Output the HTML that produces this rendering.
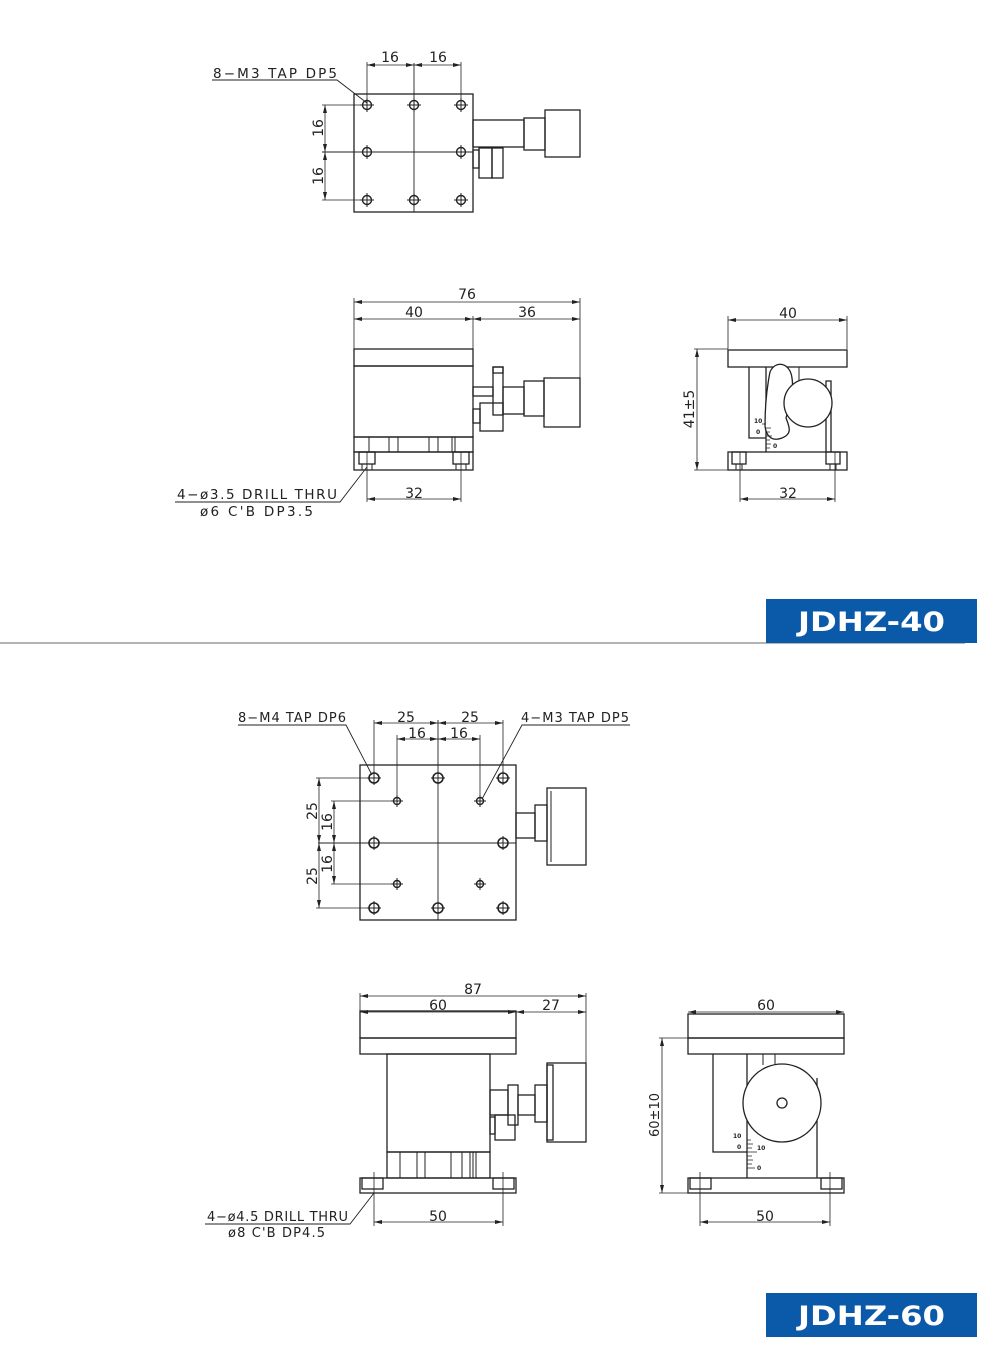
<!DOCTYPE html>
<html><head><meta charset="utf-8"><style>
html,body{margin:0;padding:0;background:#fff;}
svg{display:block;}
text{font-family:"DejaVu Sans","Liberation Sans",sans-serif;fill:#222;}
</style></head><body>
<svg width="1000" height="1367" viewBox="0 0 1000 1367" xmlns="http://www.w3.org/2000/svg">
<defs>
<marker id="a" markerWidth="8" markerHeight="6" refX="8" refY="3" orient="auto-start-reverse" markerUnits="userSpaceOnUse"><path d="M0,1 L8,3 L0,5z" fill="#222"/></marker>
<g id="h1"><circle r="4.5" fill="none" stroke="#222" stroke-width="1.4"/><line x1="-7" y1="0" x2="7" y2="0" stroke="#222" stroke-width="1"/><line x1="0" y1="-7" x2="0" y2="7" stroke="#222" stroke-width="1"/></g>
<g id="h2"><circle r="5" fill="none" stroke="#222" stroke-width="1.6"/><line x1="-7" y1="0" x2="7" y2="0" stroke="#222" stroke-width="1"/><line x1="0" y1="-7" x2="0" y2="7" stroke="#222" stroke-width="1"/></g>
<g id="h3"><circle r="3.5" fill="none" stroke="#222" stroke-width="1.4"/><line x1="-6" y1="0" x2="6" y2="0" stroke="#222" stroke-width="1"/><line x1="0" y1="-6" x2="0" y2="6" stroke="#222" stroke-width="1"/></g>
</defs>
<g fill="none" stroke="#222" stroke-width="1.3">
<!-- ===== TOP VIEW 1 ===== -->
<rect x="354" y="94" width="119" height="118"/>
<line x1="414" y1="63" x2="414" y2="212" stroke-width="0.9"/>
<line x1="322" y1="152" x2="473" y2="152" stroke-width="0.9"/>
<line x1="367" y1="62" x2="367" y2="105" stroke-width="0.8"/>
<line x1="461" y1="62" x2="461" y2="105" stroke-width="0.8"/>
<line x1="322" y1="105" x2="367" y2="105" stroke-width="0.8"/>
<line x1="322" y1="200" x2="367" y2="200" stroke-width="0.8"/>
<line x1="367" y1="65" x2="414" y2="65" stroke-width="0.8" marker-start="url(#a)" marker-end="url(#a)"/>
<line x1="414" y1="65" x2="461" y2="65" stroke-width="0.8" marker-start="url(#a)" marker-end="url(#a)"/>
<line x1="325" y1="105" x2="325" y2="152" stroke-width="0.8" marker-start="url(#a)" marker-end="url(#a)"/>
<line x1="325" y1="152" x2="325" y2="200" stroke-width="0.8" marker-start="url(#a)" marker-end="url(#a)"/>
<rect x="473" y="120" width="51" height="27"/>
<rect x="524" y="118" width="21" height="32"/>
<rect x="545" y="110" width="35" height="47"/>
<rect x="473" y="150" width="6" height="18"/>
<rect x="479" y="148" width="13" height="30"/>
<rect x="492" y="148" width="11" height="30"/>
<polyline points="212,80 337,80 367,103" stroke-width="0.9"/>

<!-- ===== FRONT VIEW 1 ===== -->
<line x1="354" y1="298" x2="354" y2="349" stroke-width="0.8"/>
<line x1="473" y1="316" x2="473" y2="349" stroke-width="0.8"/>
<line x1="580" y1="298" x2="580" y2="378" stroke-width="0.8"/>
<line x1="354" y1="302" x2="580" y2="302" stroke-width="0.8" marker-start="url(#a)" marker-end="url(#a)"/>
<line x1="354" y1="319" x2="473" y2="319" stroke-width="0.8" marker-start="url(#a)" marker-end="url(#a)"/>
<line x1="473" y1="319" x2="580" y2="319" stroke-width="0.8" marker-start="url(#a)" marker-end="url(#a)"/>
<rect x="354" y="349" width="119" height="17"/>
<rect x="354" y="366" width="119" height="71"/>
<rect x="354" y="437" width="119" height="15"/>
<path d="M369,437V452 M389,437V452 M398,437V452 M429,437V452 M438,437V452 M452,437V452 M455,437V452" stroke-width="1"/>
<rect x="354" y="452" width="119" height="18"/>
<rect x="359" y="452" width="16" height="12"/>
<rect x="453" y="452" width="16" height="12"/>
<path d="M362,464V470 M372,464V470 M456,464V470 M466,464V470" stroke-width="1"/>
<line x1="367" y1="452" x2="367" y2="502" stroke-width="0.8"/>
<line x1="461" y1="452" x2="461" y2="502" stroke-width="0.8"/>
<line x1="367" y1="499" x2="461" y2="499" stroke-width="0.8" marker-start="url(#a)" marker-end="url(#a)"/>
<rect x="473" y="387" width="20" height="9"/>
<rect x="493" y="367" width="10" height="48"/>
<rect x="493" y="367" width="10" height="6"/>
<rect x="503" y="387" width="21" height="27"/>
<rect x="524" y="381" width="20" height="35"/>
<rect x="544" y="378" width="36" height="49"/>
<rect x="473" y="409" width="7" height="14"/>
<rect x="480" y="403" width="23" height="28"/>
<polyline points="175,502 340,502 367,467" stroke-width="0.9"/>

<!-- ===== SIDE VIEW 1 ===== -->
<line x1="728" y1="316" x2="728" y2="349" stroke-width="0.8"/>
<line x1="847" y1="316" x2="847" y2="349" stroke-width="0.8"/>
<line x1="728" y1="320" x2="847" y2="320" stroke-width="0.8" marker-start="url(#a)" marker-end="url(#a)"/>
<rect x="728" y="350" width="119" height="17"/>
<polyline points="749,367 749,438 766,438"/>
<line x1="766" y1="367" x2="766" y2="452"/>
<polyline points="826,452 826,381 831,381 831,452"/>
<path d="M786,367 V381 M799,367 V381" stroke-width="1"/>
<path d="M770,372 C775,360 790,362 792,378 C794,392 790,404 786,418 C790,428 792,434 782,438 C772,442 766,436 765,426 C765,410 766,392 770,372 Z" fill="#fff"/>
<circle cx="808" cy="403" r="24" fill="#fff"/>
<path d="M766,424h-4 M766,428h5 M766,432h4 M766,436h6 M766,440h4 M766,444h5 M766,448h4" stroke-width="0.8"/>
<rect x="728" y="452" width="119" height="18"/>
<rect x="732" y="452" width="14" height="12"/>
<rect x="826" y="452" width="14" height="12"/>
<path d="M736,464V470 M742,464V470 M830,464V470 M836,464V470" stroke-width="1"/>
<line x1="694" y1="349" x2="728" y2="349" stroke-width="0.8"/>
<line x1="694" y1="470" x2="728" y2="470" stroke-width="0.8"/>
<line x1="697" y1="349" x2="697" y2="470" stroke-width="0.8" marker-start="url(#a)" marker-end="url(#a)"/>
<line x1="740" y1="452" x2="740" y2="502" stroke-width="0.8"/>
<line x1="835" y1="452" x2="835" y2="502" stroke-width="0.8"/>
<line x1="740" y1="499" x2="835" y2="499" stroke-width="0.8" marker-start="url(#a)" marker-end="url(#a)"/>

<!-- divider -->
<line x1="0" y1="643" x2="965" y2="643" stroke="#888" stroke-width="1.2"/>

<!-- ===== TOP VIEW 2 ===== -->
<rect x="360" y="765" width="156" height="155"/>
<line x1="438" y1="720" x2="438" y2="920" stroke-width="0.9"/>
<line x1="318" y1="843" x2="516" y2="843" stroke-width="0.9"/>
<line x1="374" y1="720" x2="374" y2="778" stroke-width="0.8"/>
<line x1="503" y1="720" x2="503" y2="778" stroke-width="0.8"/>
<line x1="397" y1="735" x2="397" y2="801" stroke-width="0.8"/>
<line x1="480" y1="735" x2="480" y2="801" stroke-width="0.8"/>
<line x1="316" y1="778" x2="374" y2="778" stroke-width="0.8"/>
<line x1="316" y1="908" x2="374" y2="908" stroke-width="0.8"/>
<line x1="331" y1="801" x2="397" y2="801" stroke-width="0.8"/>
<line x1="331" y1="884" x2="397" y2="884" stroke-width="0.8"/>
<line x1="374" y1="723" x2="438" y2="723" stroke-width="0.8" marker-start="url(#a)" marker-end="url(#a)"/>
<line x1="438" y1="723" x2="503" y2="723" stroke-width="0.8" marker-start="url(#a)" marker-end="url(#a)"/>
<line x1="397" y1="739" x2="438" y2="739" stroke-width="0.8" marker-start="url(#a)" marker-end="url(#a)"/>
<line x1="438" y1="739" x2="480" y2="739" stroke-width="0.8" marker-start="url(#a)" marker-end="url(#a)"/>
<line x1="319" y1="778" x2="319" y2="843" stroke-width="0.8" marker-start="url(#a)" marker-end="url(#a)"/>
<line x1="319" y1="843" x2="319" y2="908" stroke-width="0.8" marker-start="url(#a)" marker-end="url(#a)"/>
<line x1="334" y1="801" x2="334" y2="843" stroke-width="0.8" marker-start="url(#a)" marker-end="url(#a)"/>
<line x1="334" y1="843" x2="334" y2="884" stroke-width="0.8" marker-start="url(#a)" marker-end="url(#a)"/>
<rect x="516" y="813" width="19" height="25"/>
<rect x="535" y="805" width="12" height="36"/>
<rect x="547" y="788" width="39" height="77"/>
<line x1="551" y1="791" x2="551" y2="862" stroke-width="1"/>
<polyline points="238,725 346,725 372,775" stroke-width="0.9"/>
<polyline points="630,725 522,725 482,799" stroke-width="0.9"/>

<!-- ===== FRONT VIEW 2 ===== -->
<line x1="360" y1="993" x2="360" y2="1011" stroke-width="0.8"/>
<line x1="586" y1="993" x2="586" y2="1063" stroke-width="0.8"/>
<line x1="360" y1="996" x2="586" y2="996" stroke-width="0.8" marker-start="url(#a)" marker-end="url(#a)"/>
<line x1="360" y1="1012" x2="516" y2="1012" stroke-width="0.8" marker-start="url(#a)" marker-end="url(#a)"/>
<line x1="516" y1="1012" x2="586" y2="1012" stroke-width="0.8" marker-start="url(#a)" marker-end="url(#a)"/>
<rect x="360" y="1011" width="156" height="27"/>
<rect x="360" y="1038" width="156" height="16"/>
<rect x="387" y="1054" width="103" height="98"/>
<rect x="387" y="1152" width="103" height="26"/>
<path d="M400,1152V1178 M417,1152V1178 M425,1152V1178 M451,1152V1178 M462,1152V1178 M470,1152V1178 M473,1152V1178 M476,1152V1178" stroke-width="1"/>
<rect x="360" y="1178" width="156" height="15"/>
<rect x="362" y="1178" width="21" height="11"/>
<rect x="493" y="1178" width="21" height="11"/>
<line x1="374" y1="1172" x2="374" y2="1226" stroke-width="0.8"/>
<line x1="503" y1="1172" x2="503" y2="1226" stroke-width="0.8"/>
<line x1="374" y1="1222" x2="503" y2="1222" stroke-width="0.8" marker-start="url(#a)" marker-end="url(#a)"/>
<rect x="490" y="1090" width="18" height="25"/>
<rect x="508" y="1085" width="10" height="40"/>
<rect x="518" y="1095" width="17" height="20"/>
<rect x="535" y="1085" width="12" height="37"/>
<rect x="547" y="1063" width="39" height="79"/>
<rect x="547" y="1065" width="6" height="75"/>
<rect x="490" y="1117" width="5" height="17"/>
<rect x="495" y="1115" width="20" height="25"/>
<polyline points="205,1224 350,1224 374,1193" stroke-width="0.9"/>

<!-- ===== SIDE VIEW 2 ===== -->
<line x1="688" y1="1012" x2="844" y2="1012" stroke-width="0.8" marker-start="url(#a)" marker-end="url(#a)"/>
<rect x="688" y="1014" width="156" height="24"/>
<rect x="688" y="1038" width="156" height="16"/>
<polyline points="713,1054 713,1152 747,1152"/>
<line x1="747" y1="1054" x2="747" y2="1178"/>
<path d="M763,1054V1065 M775,1054V1065" stroke-width="1"/>
<line x1="817" y1="1078" x2="817" y2="1178"/>
<circle cx="782" cy="1103" r="39" fill="#fff"/>
<circle cx="782" cy="1103" r="5"/>
<path d="M747,1140h4 M747,1144h6 M747,1148h5 M747,1152h10 M747,1156h5 M747,1160h6 M747,1164h5 M747,1168h8" stroke-width="0.8"/>
<rect x="688" y="1178" width="156" height="15"/>
<rect x="690" y="1178" width="21" height="11"/>
<rect x="821" y="1178" width="21" height="11"/>
<line x1="659" y1="1038" x2="688" y2="1038" stroke-width="0.8"/>
<line x1="659" y1="1193" x2="688" y2="1193" stroke-width="0.8"/>
<line x1="662" y1="1038" x2="662" y2="1193" stroke-width="0.8" marker-start="url(#a)" marker-end="url(#a)"/>
<line x1="700" y1="1172" x2="700" y2="1226" stroke-width="0.8"/>
<line x1="830" y1="1172" x2="830" y2="1226" stroke-width="0.8"/>
<line x1="700" y1="1222" x2="830" y2="1222" stroke-width="0.8" marker-start="url(#a)" marker-end="url(#a)"/>
</g>

<!-- holes -->
<use href="#h1" x="367" y="105"/><use href="#h1" x="414" y="105"/><use href="#h1" x="461" y="105"/>
<use href="#h1" x="367" y="152"/><use href="#h1" x="461" y="152"/>
<use href="#h1" x="367" y="200"/><use href="#h1" x="414" y="200"/><use href="#h1" x="461" y="200"/>
<use href="#h2" x="374" y="778"/><use href="#h2" x="438" y="778"/><use href="#h2" x="503" y="778"/>
<use href="#h2" x="374" y="843"/><use href="#h2" x="503" y="843"/>
<use href="#h2" x="374" y="908"/><use href="#h2" x="438" y="908"/><use href="#h2" x="503" y="908"/>
<use href="#h3" x="397" y="801"/><use href="#h3" x="480" y="801"/>
<use href="#h3" x="397" y="884"/><use href="#h3" x="480" y="884"/>

<!-- text -->
<g font-size="14">
<text x="213" y="78" font-size="13.5" textLength="124" lengthAdjust="spacing">8−M3 TAP DP5</text>
<text x="390" y="62" text-anchor="middle">16</text>
<text x="438" y="62" text-anchor="middle">16</text>
<text transform="translate(323,128) rotate(-90)" text-anchor="middle">16</text>
<text transform="translate(323,176) rotate(-90)" text-anchor="middle">16</text>
<text x="467" y="299" text-anchor="middle">76</text>
<text x="414" y="317" text-anchor="middle">40</text>
<text x="527" y="317" text-anchor="middle">36</text>
<text x="414" y="498" text-anchor="middle">32</text>
<text x="177" y="499" font-size="13.5" textLength="160" lengthAdjust="spacing">4−ø3.5 DRILL THRU</text>
<text x="200" y="516" font-size="13.5" textLength="113" lengthAdjust="spacing">ø6 C'B DP3.5</text>
<text x="788" y="318" text-anchor="middle">40</text>
<text x="788" y="498" text-anchor="middle">32</text>
<text transform="translate(694,409) rotate(-90)" text-anchor="middle">41±5</text>
<text x="238" y="722" font-size="13" textLength="108" lengthAdjust="spacing">8−M4 TAP DP6</text>
<text x="521" y="722" font-size="13" textLength="108" lengthAdjust="spacing">4−M3 TAP DP5</text>
<text x="406" y="722" text-anchor="middle">25</text>
<text x="470" y="722" text-anchor="middle">25</text>
<text x="417" y="738" text-anchor="middle">16</text>
<text x="459" y="738" text-anchor="middle">16</text>
<text transform="translate(317,811) rotate(-90)" text-anchor="middle">25</text>
<text transform="translate(317,876) rotate(-90)" text-anchor="middle">25</text>
<text transform="translate(332,822) rotate(-90)" text-anchor="middle">16</text>
<text transform="translate(332,864) rotate(-90)" text-anchor="middle">16</text>
<text x="473" y="994" text-anchor="middle">87</text>
<text x="438" y="1010" text-anchor="middle">60</text>
<text x="551" y="1010" text-anchor="middle">27</text>
<text x="438" y="1221" text-anchor="middle">50</text>
<text x="207" y="1221" font-size="13" textLength="141" lengthAdjust="spacing">4−ø4.5 DRILL THRU</text>
<text x="228" y="1237" font-size="13" textLength="97" lengthAdjust="spacing">ø8 C'B DP4.5</text>
<text x="766" y="1010" text-anchor="middle">60</text>
<text x="765" y="1221" text-anchor="middle">50</text>
<text transform="translate(659,1115) rotate(-90)" text-anchor="middle" font-size="13">60±10</text>
</g>
<g font-size="6" font-weight="bold">
<text x="754" y="423">10</text><text x="756" y="434">0</text><text x="773" y="448">0</text>
<text x="733" y="1138">10</text><text x="737" y="1149">0</text><text x="757" y="1150">10</text><text x="757" y="1170">0</text>
</g>

<!-- labels -->
<rect x="766" y="599" width="211" height="44" fill="#0b5aa9"/>
<text x="798" y="631" font-family="Liberation Sans, sans-serif" font-weight="bold" font-size="27" textLength="147" lengthAdjust="spacingAndGlyphs" style="fill:#fff">JDHZ-40</text>
<rect x="766" y="1293" width="211" height="44" fill="#0b5aa9"/>
<text x="798" y="1325" font-family="Liberation Sans, sans-serif" font-weight="bold" font-size="27" textLength="147" lengthAdjust="spacingAndGlyphs" style="fill:#fff">JDHZ-60</text>
</svg>
</body></html>
